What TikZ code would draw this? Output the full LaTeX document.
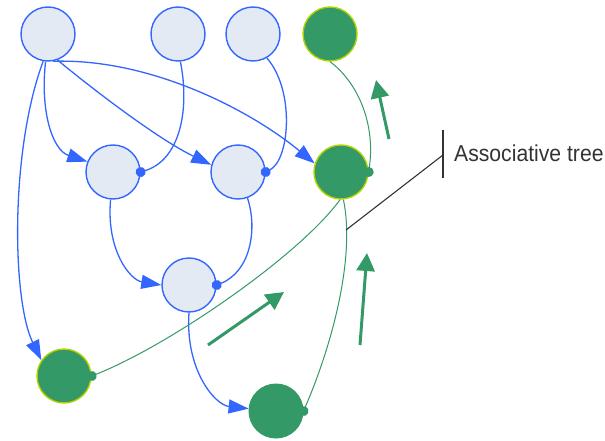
\documentclass[tikz,border=0pt]{standalone}
\usepackage{fontspec}
\setmainfont{Liberation Sans}
\newfontfamily\labelfont[FakeStretch=0.92]{Liberation Sans}
\usetikzlibrary{arrows.meta}
\definecolor{nodeblue}{HTML}{3366FF}
\definecolor{nodefill}{HTML}{E4EAF4}
\definecolor{treegreen}{HTML}{339966}
\definecolor{rimgreen}{HTML}{B4D200}
\definecolor{annot}{HTML}{333333}
\tikzset{
  opnode/.style={circle, draw=nodeblue, fill=nodefill, line width=1.4pt,
    minimum size=54pt, inner sep=0pt},
  treenode/.style={circle, draw=rimgreen, fill=treegreen, line width=1.4pt,
    minimum size=54pt, inner sep=0pt},
  leafnode/.style={circle, draw=treegreen, fill=treegreen, line width=1pt,
    minimum size=54pt, inner sep=0pt},
  flow/.style={draw=nodeblue, line width=1.3pt,
    -{Triangle[length=20pt,width=14pt]}},
  bind/.style={draw=nodeblue, line width=1.3pt, -{Circle[length=10pt]},
    shorten >=-5pt},
  link/.style={draw=treegreen, line width=1pt, {Circle[length=10pt]}-,
    shorten <=-5pt},
  trend/.style={draw=treegreen, line width=3pt,
    -{Triangle[length=18pt,width=18pt]}},
}
\begin{document}
\begin{tikzpicture}[x=1pt,y=-1pt]
\useasboundingbox (0,0) rectangle (605,441);

% operator nodes
\node[opnode] (A) at (48,34) {};
\node[opnode] (B) at (178,34) {};
\node[opnode] (C) at (253,34) {};
\node[opnode] (E) at (113,172) {};
\node[opnode] (F) at (238,172) {};
\node[opnode] (H) at (189,285) {};

% associative tree nodes
\node[treenode] (D) at (330,34) {};
\node[treenode] (G) at (341,172) {};
\node[treenode] (I) at (64,376) {};
\node[leafnode] (J) at (276,411) {};

% blue data flow
\draw[flow] (A.265) .. controls (40,110) and (52,150) .. (E.158);
\draw[bind] (B.275) .. controls (190,110) and (180,160) .. (E.east);
\draw[flow] (A.290) .. controls (100,95) and (160,140) .. (F.165);
\draw[bind] (C.300) .. controls (295,90) and (290,160) .. (F.east);
\draw[flow] (A.280) .. controls (150,58) and (250,110) .. (G.162);
\draw[flow] (A.260) .. controls (10,150) and (12,300) .. (I.145);
\draw[flow] (E.265) .. controls (106,250) and (130,280) .. (H.west);
\draw[bind] (F.290) .. controls (258,230) and (250,272) .. (H.east);
\draw[flow] (H.south) .. controls (185,370) and (215,405) .. (J.175);

% green tree links
\draw[link] (I.east) .. controls (170,345) and (300,255) .. (G.268);
\draw[link] (J.east) .. controls (330,350) and (356,260) .. (G.275);
\draw[link] (G.east) .. controls (376,120) and (355,80) .. (D.south);

% direction of accumulation
\coordinate (t1s) at (389,139);
\coordinate (t1e) at (376,80);
\coordinate (t2s) at (208,345);
\coordinate (t2e) at (284,292);
\coordinate (t3s) at (360,345);
\coordinate (t3e) at (367,253);
\draw[trend] (t1s) -- (t1e);
\draw[trend] (t2s) -- (t2e);
\draw[trend] (t3s) -- (t3e);

% callout
\coordinate (cp) at (346,230);
\coordinate (bt) at (443,130);
\coordinate (bb) at (443,178);
\coordinate (bm) at (443,155);
\draw[annot, line width=1.1pt] (cp) -- (bm);
\draw[annot, line width=1.8pt] (bt) -- (bb);
\node[anchor=west, inner sep=0pt, text=annot, font=\labelfont\fontsize{23}{26}\selectfont]
  (lbl) at (454,153) {Associative tree};
\end{tikzpicture}
\end{document}
